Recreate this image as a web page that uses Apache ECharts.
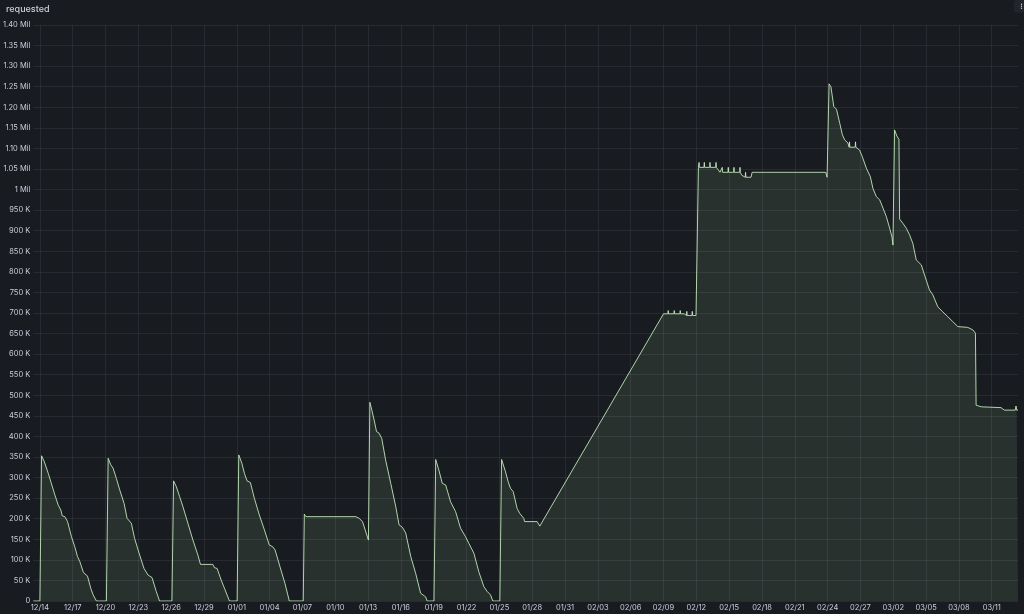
<!DOCTYPE html>
<html>
<head>
<meta charset="utf-8">
<script src="https://cdn.jsdelivr.net/npm/echarts@6/dist/echarts.min.js"></script>
<style>
html,body{margin:0;padding:0;background:#181b1f;}
#c{width:1024px;height:614px;}
</style>
</head>
<body>
<div id="c"></div>
<script>
// Time of each sample, in days since 2024-12-14 00:00 UTC
const dayOffsets = [
-0.6,0,0.155,0.40,0.77,1.0,1.37,1.68,1.92,2.04,2.28,2.53,2.89,3.19,3.44,3.65,3.96,4.1,4.35,4.65,4.87,5.17,
6.08,6.24,6.48,6.69,6.99,7.3,7.7,7.97,8.15,8.36,8.66,9.12,9.52,9.89,10.25,10.64,10.94,
12.07,12.22,12.47,12.77,13.08,13.53,13.99,14.44,14.68,15.81,15.96,16.2,16.57,16.93,17.33,
18.03,18.18,18.46,18.7,18.94,19.24,19.6,20.06,20.52,20.97,21.28,21.5,21.95,22.4,22.8,
24.07,24.17,24.32,28.88,29.18,29.49,30.03,
30.16,30.34,30.55,30.77,31.0,31.25,31.6,32.07,32.53,32.83,33.14,33.44,33.9,34.35,34.8,35.26,35.4,
36.02,36.18,36.47,36.78,37.09,37.54,38.0,38.45,38.91,39.21,39.67,40.12,40.58,40.89,41.19,41.4,
42.04,42.2,42.56,42.8,43.01,43.26,43.62,43.86,44.23,44.3,45.45,45.69,
57.0,57.4,57.43,57.46,57.95,57.98,58.01,58.5,58.53,58.56,58.9,58.95,59.1,59.13,59.16,59.6,59.63,59.66,59.97,
60.19,60.25,60.28,60.7,60.73,60.76,61.22,61.25,61.28,61.77,61.8,61.83,62.0,
62.16,62.34,62.37,62.4,62.89,62.92,62.95,63.41,63.44,63.47,63.96,63.99,64.02,64.14,
64.47,64.5,64.53,65.0,65.1,71.83,71.95,
72.13,72.3,72.44,72.56,72.81,73.11,73.35,73.55,73.86,73.97,74.0,74.03,74.52,74.55,74.58,
74.92,75.17,75.54,75.91,76.14,76.45,76.76,77.06,77.37,77.67,77.88,77.97,
78.12,78.21,78.33,78.52,78.58,78.88,79.19,79.49,79.79,80.1,80.56,81.01,81.31,81.62,
82.07,82.52,82.98,83.44,83.9,84.81,85.27,85.51,85.55,
85.57,86.03,87.85,88.15,89.15,89.22,89.28,89.4
];
// "requested" values, in thousands
const requestedK = [
0,0,353,339,310,290,258,233,221,207,205,193,156,132,108,96,71,66,61,31,15,0,
0,347,331,323,298,270,237,201,201,189,152,112,79,63,57,23,0,
0,292,278,254,229,189,148,112,89,89,81,79,51,27,0,
0,355,335,310,292,288,250,209,173,136,132,124,83,43,0,
0,211,205,205,201,193,148,
483,464,440,412,408,395,343,286,229,185,179,165,108,67,19,10,0,
0,344,318,286,282,241,217,177,156,140,116,71,35,23,15,0,
0,344,314,290,274,266,225,213,201,193,193,182,
698,698,706,698,698,706,698,698,706,698,698,694,694,704,694,694,704,694,694,
1054,1066,1054,1054,1066,1054,1054,1066,1054,1054,1066,1054,1048,
1042,1042,1054,1042,1042,1054,1042,1042,1054,1042,1042,1054,1042,1035,
1030,1042,1030,1030,1042,1042,1030,
1257,1250,1246,1202,1195,1161,1133,1121,1113,1103,1116,1103,1103,1116,1103,
1096,1080,1052,1031,1003,983,975,955,934,906,885,865,
1145,1149,1130,1122,928,918,906,890,869,829,817,780,756,744,
715,703,691,679,667,665,659,651,651,
476,472,470,464,464,474,464,464
];
// X tick positions (days since 2024-12-14), every 3 days
const xTickDays = [0,3,6,9,12,15,18,21,24,27,30,33,36,39,42,45,48,51,54,57,60,63,66,69,72,75,78,81,84,87];
const baseDateUTC = Date.UTC(2024, 11, 14);
const seriesName = 'requested';

const seriesData = dayOffsets.map((d, i) => [d, requestedK[i] * 1000]);

function fmtDay(v) {
  const dt = new Date(baseDateUTC + Math.round(v * 86400000));
  const mm = String(dt.getUTCMonth() + 1).padStart(2, '0');
  const dd = String(dt.getUTCDate()).padStart(2, '0');
  return mm + '/' + dd;
}
function fmtVal(v) {
  if (v === 0) return '0';
  if (v >= 1e6) {
    if (v === 1e6) return '1 Mil';
    return (v / 1e6).toFixed(2) + ' Mil';
  }
  return Math.round(v / 1000) + ' K';
}

const chart = echarts.init(document.getElementById('c'), null, {renderer: 'canvas'});
const txt = '#ccccdc';
const gridCol = 'rgba(204,204,220,0.09)';
chart.setOption({
  backgroundColor: '#181b1f',
  animation: false,
  textStyle: {fontFamily: 'Inter'},
  title: {
    text: seriesName, left: 1, top: 0,
    textStyle: {color: txt, fontSize: 9, fontWeight: 500, fontFamily: 'Inter'}
  },
  graphic: [
    {type: 'rect', shape: {x: 1014, y: 0, width: 10, height: 12.5, r: 2}, style: {fill: '#22252b'}},
    {type: 'circle', shape: {cx: 1021.5, cy: 4.3, r: 0.7}, style: {fill: txt}},
    {type: 'circle', shape: {cx: 1021.5, cy: 6.3, r: 0.7}, style: {fill: txt}},
    {type: 'circle', shape: {cx: 1021.5, cy: 8.3, r: 0.7}, style: {fill: txt}}
  ],
  grid: {left: 32, right: 6, top: 25, bottom: 13, containLabel: false},
  xAxis: {
    type: 'value', min: -0.6, max: 89.4,
    axisLine: {show: false},
    axisTick: {show: false, customValues: xTickDays},
    axisLabel: {
      customValues: xTickDays, formatter: fmtDay,
      color: txt, fontSize: 7.5, margin: 3, fontFamily: 'Inter'
    },
    splitLine: {show: true, lineStyle: {color: gridCol, width: 1}}
  },
  yAxis: {
    type: 'value', min: 0, max: 1400000, interval: 50000,
    axisLine: {show: false},
    axisTick: {show: false},
    axisLabel: {formatter: fmtVal, color: txt, fontSize: 7.5, margin: 3, fontFamily: 'Inter'},
    splitLine: {show: true, lineStyle: {color: gridCol, width: 1}}
  },
  series: [{
    name: seriesName, type: 'line', data: seriesData,
    showSymbol: false, symbol: 'none', sampling: null,
    lineStyle: {color: '#C8F2C2', width: 1, opacity: 0.85},
    itemStyle: {color: '#C8F2C2'},
    areaStyle: {color: '#C8F2C2', opacity: 0.1}
  }]
});
</script>
</body>
</html>
